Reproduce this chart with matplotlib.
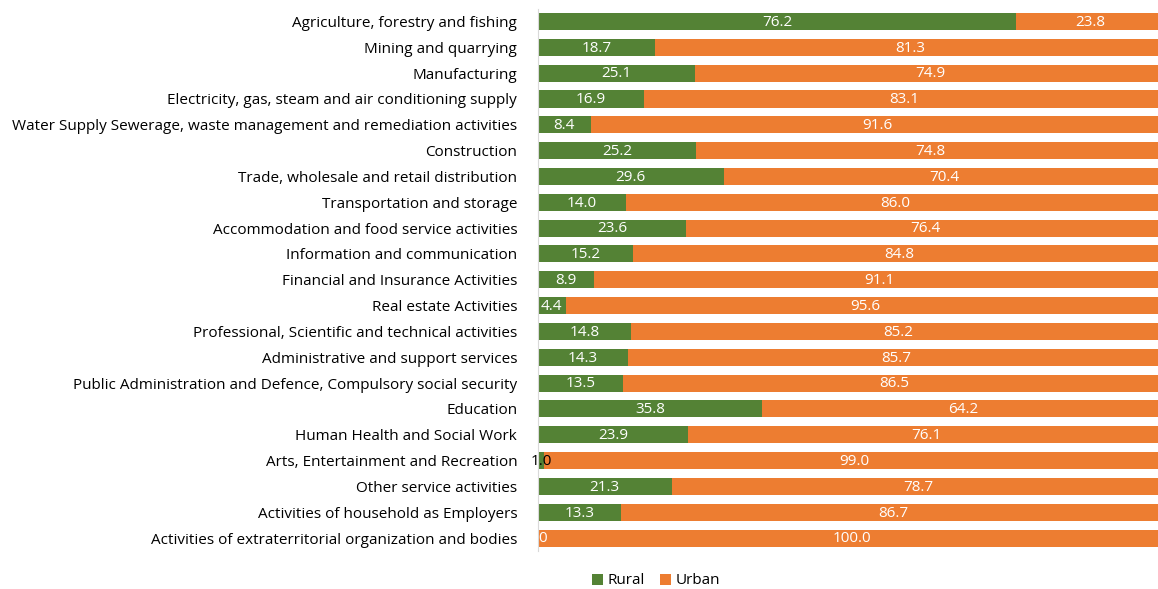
import matplotlib.pyplot as plt
import numpy as np

categories = [
    "Agriculture, forestry and fishing",
    "Mining and quarrying",
    "Manufacturing",
    "Electricity, gas, steam and air conditioning supply",
    "Water Supply Sewerage, waste management and remediation activities",
    "Construction",
    "Trade, wholesale and retail distribution",
    "Transportation and storage",
    "Accommodation and food service activities",
    "Information and communication",
    "Financial and Insurance Activities",
    "Real estate Activities",
    "Professional, Scientific and technical activities",
    "Administrative and support services",
    "Public Administration and Defence, Compulsory social security",
    "Education",
    "Human Health and Social Work",
    "Arts, Entertainment and Recreation",
    "Other service activities",
    "Activities of household as Employers",
    "Activities of extraterritorial organization and bodies",
]
rural = [76.2, 18.7, 25.1, 16.9, 8.4, 25.2, 29.6, 14.0, 23.6, 15.2, 8.9, 4.4,
         14.8, 14.3, 13.5, 35.8, 23.9, 1.0, 21.3, 13.3, 0.0]
urban = [23.8, 81.3, 74.9, 83.1, 91.6, 74.8, 70.4, 86.0, 76.4, 84.8, 91.1, 95.6,
         85.2, 85.7, 86.5, 64.2, 76.1, 99.0, 78.7, 86.7, 100.0]

green = "#548235"
orange = "#ED7D31"

plt.rcParams['font.family'] = ['Open Sans', 'DejaVu Sans']

fig = plt.figure(figsize=(11.58, 5.89), dpi=100)
ax = fig.add_axes([538/1158, 1 - 551/589, 627/1158, (551 - 8.6)/589])

y = np.arange(len(categories))
h = 0.66
ax.barh(y, rural, height=h, color=green, label="Rural")
ax.barh(y, urban, left=rural, height=h, color=orange, label="Urban")

fs = 11
for i, (r, u) in enumerate(zip(rural, urban)):
    rl = "0" if r == 0 else f"{r:.1f}"
    col = "black" if r == 1.0 else "white"
    ax.text(r / 2 + (0.8 if r == 0 else 0), i + 0.03, rl, ha="center", va="center", color=col, fontsize=fs)
    ax.text(r + u / 2, i + 0.03, f"{u:.1f}", ha="center", va="center", color="white", fontsize=fs)

ax.set_xlim(0, 100)
ax.set_ylim(len(categories) - 0.5, -0.5)
ax.set_yticks(y)
ax.set_yticklabels(categories, fontsize=fs)
ax.tick_params(axis="y", length=0, pad=15)
ax.set_xticks([])
for s in ["top", "right", "bottom"]:
    ax.spines[s].set_visible(False)
ax.spines["left"].set_color("#D9D9D9")
ax.spines["left"].set_linewidth(0.8)

leg = fig.legend(loc="center", bbox_to_anchor=(656/1158, 1 - 581/589), ncol=2, frameon=False,
                 fontsize=fs, handlelength=0.7, handleheight=0.7, handletextpad=0.3, columnspacing=1.0)

fig.savefig("out.png", dpi=100)
